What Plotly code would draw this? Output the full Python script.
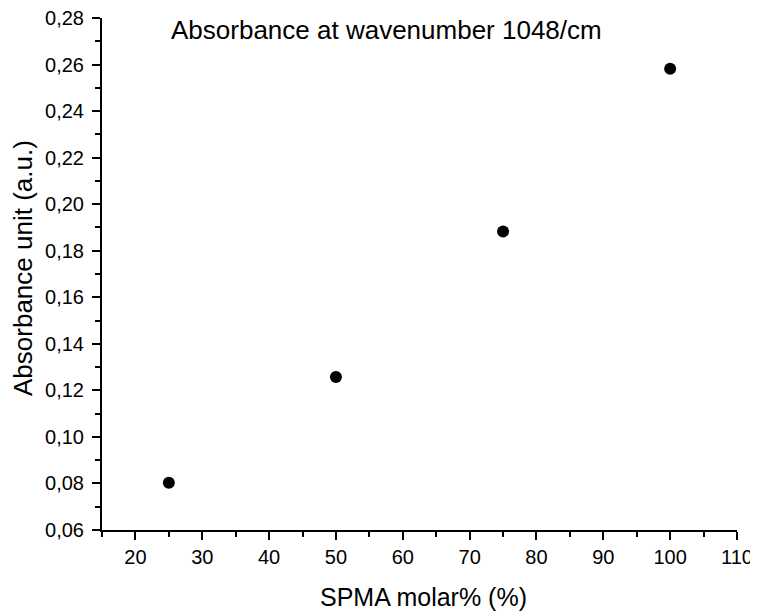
import plotly.graph_objects as go

spma = [25, 50, 75, 100]
absorbance = [0.0803, 0.1257, 0.1883, 0.2582]
title_text = "Absorbance at wavenumber 1048/cm"
x_title = "SPMA molar% (%)"
y_title = "Absorbance unit (a.u.)"

fig = go.Figure()
fig.add_trace(go.Scatter(x=spma, y=absorbance, mode="markers",
                         marker=dict(color="black", size=12), showlegend=False))

font = "Liberation Sans, Arial, sans-serif"
# page body has an 8px default margin, so the figure is 8px smaller and left/top margins shifted
fig.update_layout(
    width=750, height=604,
    margin=dict(l=94, r=21, t=10, b=82, autoexpand=False),
    paper_bgcolor="white", plot_bgcolor="white",
    separators=",.",
    font=dict(family=font, color="black"),
    annotations=[
        dict(text=title_text, xref="paper", yref="paper", x=(386 - 102) / 635, y=(530 - 30) / 512,
             xanchor="center", yanchor="middle", showarrow=False,
             font=dict(size=26, family=font, color="black")),
        dict(text=x_title, xref="paper", yref="paper", x=(423 - 102) / 635, y=-(597 - 530) / 512,
             xanchor="center", yanchor="middle", showarrow=False,
             font=dict(size=25, family=font, color="black")),
        dict(text=y_title, xref="paper", yref="paper", x=-(102 - 23) / 635, y=(530 - 268) / 512,
             xanchor="center", yanchor="middle", showarrow=False, textangle=-90,
             font=dict(size=26, family=font, color="black")),
    ],
)
fig.update_xaxes(range=[15, 110], tickmode="linear", tick0=20, dtick=10, automargin=False,
                 showline=True, linecolor="black", linewidth=2, mirror=False,
                 ticks="outside", ticklen=8, tickwidth=2, tickcolor="black",
                 minor=dict(ticks="outside", ticklen=5, tickwidth=2, tickcolor="black", dtick=5, tick0=15, showgrid=False),
                 showgrid=False, zeroline=False, ticklabeloverflow="allow",
                 tickfont=dict(size=20))
fig.update_yaxes(range=[0.06, 0.28], tickmode="linear", tick0=0.06, dtick=0.02, tickformat=".2f", automargin=False,
                 showline=True, linecolor="black", linewidth=2, mirror=False,
                 ticks="outside", ticklen=8, tickwidth=2, tickcolor="black",
                 minor=dict(ticks="outside", ticklen=5, tickwidth=2, tickcolor="black", dtick=0.01, showgrid=False),
                 showgrid=False, zeroline=False, ticklabeloverflow="allow", ticklabelstandoff=4,
                 tickfont=dict(size=20))

fig.write_html("out.html")
